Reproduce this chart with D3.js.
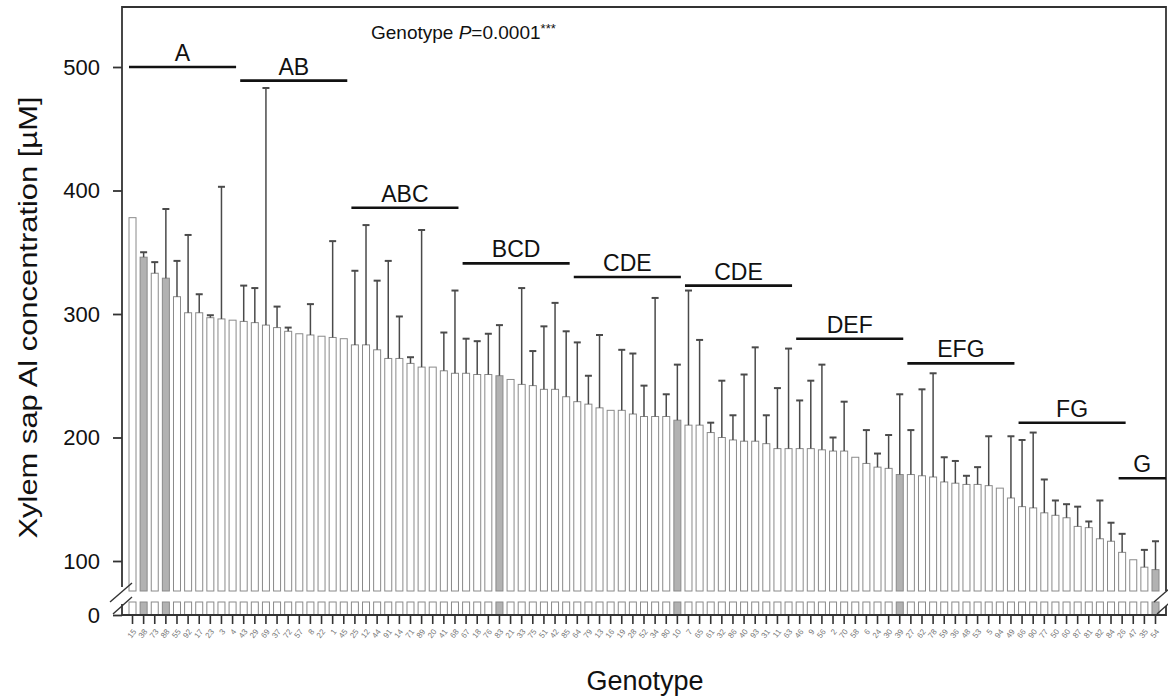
<!DOCTYPE html>
<html>
<head>
<meta charset="utf-8">
<script src="https://cdn.jsdelivr.net/npm/d3@7"></script>
<style>
  body { margin: 0; background: #fff; }
  text { font-family: "Liberation Sans", Arial, sans-serif; }
</style>
</head>
<body>
<div id="chart"></div>
<script>
const genotypes = ["15","38","73","88","55","92","17","23","3","4",
  "43","29","69","37","72","57","8","22","1","45",
  "25","12","44","91","14","71","89","20","41","68",
  "67","18","76","83","21","33","75","51","42","85",
  "64","79","13","16","19","28","52","34","80","10",
  "7","65","61","32","86","40","93","31","11","63",
  "46","9","56","2","70","58","6","24","30","39",
  "27","62","78","59","36","48","53","5","94","49",
  "66","90","77","50","60","87","81","82","84","26",
  "47","35","54"];

const means = [378,346,333,329,314,301,301,297,296,295,
  294,293,291,289,286,284,283,282,281,280,
  275,275,271,264,264,260,257,257,254,252,
  252,251,251,250,247,243,242,239,239,233,
  229,227,224,222,222,219,217,217,217,214,
  210,210,204,200,198,197,197,195,191,191,
  191,191,190,189,189,184,179,176,175,170,
  170,169,168,164,163,162,162,161,159,151,
  144,143,139,137,135,128,127,118,116,107,
  101,95,93];

const errors = [0,4,9,56,29,63,15,2,107,0,
  29,28,192,17,3,0,25,0,78,0,
  60,97,56,79,34,5,111,0,31,67,
  28,27,33,41,0,78,28,51,70,53,
  48,23,59,0,49,49,25,96,18,45,
  109,69,8,46,20,54,76,23,49,81,
  39,55,69,11,40,0,27,11,27,65,
  36,70,84,20,18,7,14,40,0,50,
  54,61,27,12,11,16,5,31,15,15,
  0,14,23];

const grayGenotypes = ["38","88","83","10","39","54"];

const groupLetters = ["A","AB","ABC","BCD","CDE","CDE","DEF","EFG","FG","G"];
const groupLevels = [500,489,386,341,330,323,280,260,212,167];
const groupFirst = [0,10,20,30,40,50,60,70,80,89];
const groupLast = [9,19,29,39,49,59,69,79,89,92];

const yTicks = [100,200,300,400,500];

const svgWidth = 1168;
const svgHeight = 696;
const plotLeft = 122, plotRight = 1166, plotTop = 7, plotBottom = 615;
const breakTop = 591, breakBottom = 602;

const data = genotypes.map((g, i) => ({ g, mean: means[i], err: errors[i] }));

const svg = d3.select("#chart").append("svg")
  .attr("width", svgWidth)
  .attr("height", svgHeight);

const x = d3.scaleBand()
  .domain(genotypes)
  .range([plotLeft, plotRight])
  .paddingInner(0.37)
  .paddingOuter(0.63);

const y = d3.scaleLinear().domain([100, 500]).range([561, 67]);
const yLow = d3.scaleLinear().domain([0, 10]).range([plotBottom, breakBottom]);

const barFill = d => grayGenotypes.includes(d.g) ? "#b2b2b2" : "#fff";

// bars, upper segment
svg.append("g")
  .selectAll("rect")
  .data(data)
  .enter()
  .append("rect")
  .attr("x", d => x(d.g))
  .attr("y", d => y(d.mean))
  .attr("width", x.bandwidth())
  .attr("height", d => breakTop - y(d.mean))
  .attr("fill", barFill)
  .attr("stroke", "#8a8a8a")
  .attr("stroke-width", 1);

// bars, lower segment below the break
svg.append("g")
  .selectAll("rect")
  .data(data)
  .enter()
  .append("rect")
  .attr("x", d => x(d.g))
  .attr("y", yLow(10))
  .attr("width", x.bandwidth())
  .attr("height", yLow(0) - yLow(10))
  .attr("fill", barFill)
  .attr("stroke", "#8a8a8a")
  .attr("stroke-width", 1);

// error bars
const errs = svg.append("g")
  .selectAll("g")
  .data(data.filter(d => d.err > 0))
  .enter()
  .append("g")
  .attr("stroke", "#4a4a4a")
  .attr("stroke-width", 1.5);

errs.append("line")
  .attr("x1", d => x(d.g) + x.bandwidth() / 2)
  .attr("x2", d => x(d.g) + x.bandwidth() / 2)
  .attr("y1", d => y(d.mean))
  .attr("y2", d => y(d.mean + d.err));

errs.append("line")
  .attr("x1", d => x(d.g))
  .attr("x2", d => x(d.g) + x.bandwidth())
  .attr("y1", d => y(d.mean + d.err))
  .attr("y2", d => y(d.mean + d.err))
  .attr("stroke-width", 2);

// frame with axis breaks
const frame = svg.append("g")
  .attr("stroke", "#333")
  .attr("stroke-width", 1.8)
  .attr("fill", "none");

frame.append("path").attr("d", `M${plotLeft},${breakTop - 4}V${plotTop}H${plotRight}V${breakTop}`);
frame.append("path").attr("d", `M${plotLeft},${breakBottom + 2}V${plotBottom}H${plotRight}V${breakBottom + 4}`);

[plotLeft, plotRight].forEach(bx => {
  frame.append("line")
    .attr("x1", bx - 12).attr("y1", breakTop + 11)
    .attr("x2", bx + 10).attr("y2", breakTop - 8)
    .attr("stroke-width", 1.4);
  frame.append("line")
    .attr("x1", bx - 9).attr("y1", plotBottom - 1)
    .attr("x2", bx + 10).attr("y2", breakBottom - 5)
    .attr("stroke-width", 1.4);
});

// y axis
svg.append("g")
  .attr("transform", `translate(${plotLeft},0)`)
  .call(d3.axisLeft(y).tickValues(yTicks).tickSize(9).tickPadding(13));

svg.append("g")
  .attr("transform", `translate(${plotLeft},0)`)
  .call(d3.axisLeft(yLow).tickValues([0]).tickSize(9).tickPadding(13));

svg.selectAll(".domain").remove();
svg.selectAll(".tick line").attr("stroke", "#333").attr("stroke-width", 1.8);
svg.selectAll(".tick text")
  .style("font-size", "22px")
  .style("font-family", "Liberation Sans, Arial, sans-serif")
  .attr("fill", "#111");

// x axis
const xAxis = svg.append("g")
  .attr("transform", `translate(0,${plotBottom})`)
  .call(d3.axisBottom(x).tickSize(9));

xAxis.select(".domain").remove();
xAxis.selectAll(".tick line").attr("stroke", "#333").attr("stroke-width", 1.6);
xAxis.selectAll(".tick text")
  .style("font-size", "8px")
  .style("font-family", "Liberation Sans, Arial, sans-serif")
  .attr("fill", "#777")
  .attr("text-anchor", "end")
  .attr("dy", "0.35em")
  .attr("y", 0)
  .attr("transform", "translate(2,15) rotate(-52)");

// group letters
const groups = svg.append("g");
groupLetters.forEach((letter, i) => {
  const x1 = x(genotypes[groupFirst[i]]);
  const x2 = i === groupLetters.length - 1 ? plotRight : x(genotypes[groupLast[i]]) + x.bandwidth();
  const gy = y(groupLevels[i]);
  groups.append("line")
    .attr("x1", x1).attr("x2", x2)
    .attr("y1", gy).attr("y2", gy)
    .attr("stroke", "#111")
    .attr("stroke-width", 2.6);
  groups.append("text")
    .attr("x", (x1 + x2) / 2)
    .attr("y", gy - 6)
    .attr("text-anchor", "middle")
    .style("font-size", "23px")
    .attr("fill", "#111")
    .text(letter);
});

// annotation
const note = svg.append("text")
  .attr("x", 371)
  .attr("y", 39)
  .style("font-size", "19px")
  .attr("fill", "#111");
note.append("tspan").text("Genotype ");
note.append("tspan").style("font-style", "italic").text("P");
note.append("tspan").text("=0.0001");
note.append("tspan").attr("dy", -6).style("font-size", "13px").text("***");

// axis titles
svg.append("text")
  .attr("x", 645)
  .attr("y", 690)
  .attr("text-anchor", "middle")
  .style("font-size", "27px")
  .attr("fill", "#111")
  .text("Genotype");

svg.append("text")
  .attr("transform", `translate(37,${(95 + 540) / 2}) rotate(-90)`)
  .attr("text-anchor", "middle")
  .style("font-size", "25px")
  .attr("textLength", 442)
  .attr("lengthAdjust", "spacingAndGlyphs")
  .attr("fill", "#111")
  .text("Xylem sap Al concentration [µM]");
</script>
</body>
</html>
